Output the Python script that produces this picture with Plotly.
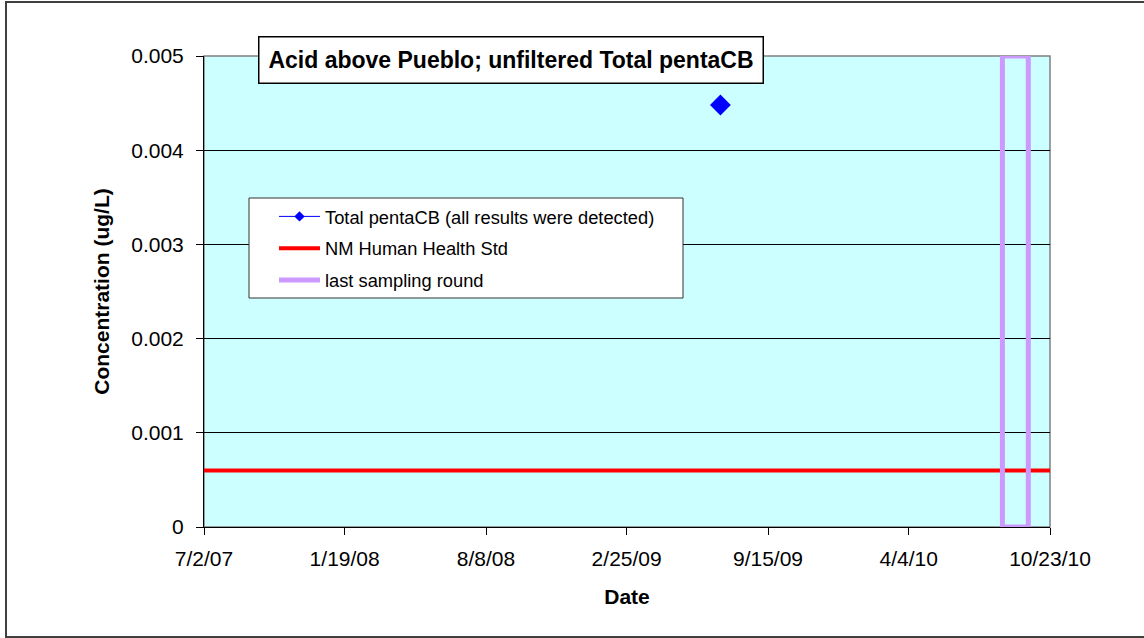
import plotly.graph_objects as go

# ---- data ----
pentacb_dates = ["2009-07-09"]
pentacb_values = [0.00448]

std_dates = ["2007-07-02", "2010-10-23"]
std_values = [0.0006, 0.0006]

last_round_start = "2010-08-16"
last_round_end = "2010-09-22"
last_round_top = 0.005
last_round_bottom = 0.0

x_tick_dates = ["2007-07-02", "2008-01-19", "2008-08-08", "2009-02-25",
                "2009-09-15", "2010-04-04", "2010-10-23"]
x_tick_labels = ["7/2/07", "1/19/08", "8/8/08", "2/25/09", "9/15/09", "4/4/10", "10/23/10"]
y_tick_values = [0, 0.001, 0.002, 0.003, 0.004, 0.005]
y_tick_labels = ["0", "0.001", "0.002", "0.003", "0.004", "0.005"]

# ---- layout geometry (pixels) ----
W, H = 1144, 638
L, R, T, B = 204, 94, 56, 111
PW, PH = W - L - R, H - T - B

def px(xp):
    return (xp - L) / PW

def py(yp):
    return (H - B - yp) / PH

FONT = "Liberation Sans, Arial, sans-serif"

fig = go.Figure()

# data traces (legend entries drawn by the legend-only traces below)
fig.add_trace(go.Scatter(
    x=std_dates, y=std_values, mode="lines",
    name="NM Human Health Std",
    line=dict(color="#FF0000", width=4),
    showlegend=False,
))
fig.add_trace(go.Scatter(
    x=[last_round_start, last_round_start, last_round_end, last_round_end, last_round_start],
    y=[last_round_bottom, last_round_top, last_round_top, last_round_bottom, last_round_bottom],
    mode="lines",
    name="last sampling round",
    line=dict(color="#CC99FF", width=5),
    showlegend=False,
))
fig.add_trace(go.Scatter(
    x=pentacb_dates, y=pentacb_values, mode="lines+markers",
    name="Total pentaCB (all results were detected)",
    line=dict(color="#0000FF", width=1),
    marker=dict(symbol="diamond", size=16, color="#0000FF"),
    showlegend=False,
))

# legend entries
fig.add_trace(go.Scatter(
    x=[None], y=[None], mode="lines+markers",
    name="Total pentaCB (all results were detected)",
    line=dict(color="#0000FF", width=1),
    marker=dict(symbol="diamond", size=8, color="#0000FF"),
    legendgroup="a", legendrank=1,
))
fig.add_trace(go.Scatter(
    x=[None], y=[None], mode="lines",
    name="NM Human Health Std",
    line=dict(color="#FF0000", width=4),
    legendgroup="b", legendrank=2,
))
fig.add_trace(go.Scatter(
    x=[None], y=[None], mode="lines",
    name="last sampling round",
    line=dict(color="#CC99FF", width=5),
    legendgroup="c", legendrank=3,
))

fig.update_layout(
    width=W, height=H,
    margin=dict(l=L, r=R, t=T, b=B),
    paper_bgcolor="white",
    plot_bgcolor="#CCFFFF",
    font=dict(family=FONT, size=21, color="black"),
    showlegend=True,
    legend=dict(
        x=px(274), y=py(198), xanchor="left", yanchor="top",
        bgcolor="rgba(0,0,0,0)", borderwidth=0,
        font=dict(size=18.3, family=FONT),
        tracegroupgap=5,
        itemwidth=41,
        traceorder="grouped",
    ),
    xaxis=dict(
        type="date",
        range=[x_tick_dates[0], x_tick_dates[-1]],
        tickvals=x_tick_dates, ticktext=x_tick_labels,
        ticks="outside", ticklen=7, tickcolor="black", tickwidth=1,
        showline=True, linecolor="black", linewidth=1,
        showgrid=False, zeroline=False,
        tickfont=dict(size=21),
        ticklabelstandoff=6,
        title=dict(text="<b>Date</b>", font=dict(size=21), standoff=20),
    ),
    yaxis=dict(
        range=[0, 0.005],
        tickvals=y_tick_values, ticktext=y_tick_labels,
        ticks="outside", ticklen=7, tickcolor="black", tickwidth=1,
        showline=True, linecolor="black", linewidth=1,
        showgrid=True, gridcolor="black", gridwidth=1,
        zeroline=False,
        tickfont=dict(size=21),
        ticklabelstandoff=8,
        title=dict(text="<b>Concentration (ug/L)</b>", font=dict(size=21), standoff=15),
    ),
    shapes=[
        # plot area border (gray)
        dict(type="rect", xref="paper", yref="paper", x0=0, x1=1, y0=0, y1=1,
             line=dict(color="#808080", width=1.5), layer="below"),
        # legend box
        dict(type="rect", xref="paper", yref="paper",
             x0=px(249), x1=px(683), y0=py(298), y1=py(198),
             fillcolor="white", line=dict(color="#333333", width=1), layer="above"),
        # outer chart frame
        dict(type="rect", xref="paper", yref="paper",
             x0=px(6), x1=px(1152), y0=py(637), y1=py(2),
             line=dict(color="#404040", width=2)),
    ],
    annotations=[
        dict(text="<b>Acid above Pueblo; unfiltered Total pentaCB</b>",
             xref="paper", yref="paper", x=px(510.5), y=py(59.5),
             xanchor="center", yanchor="middle", showarrow=False,
             font=dict(size=23, family=FONT, color="black"),
             bgcolor="white", bordercolor="black", borderwidth=1.5,
             width=503, height=45, borderpad=0),
    ],
)

fig.write_html("out.html", config={"displayModeBar": False},
               post_script="document.body.style.margin='0';")
